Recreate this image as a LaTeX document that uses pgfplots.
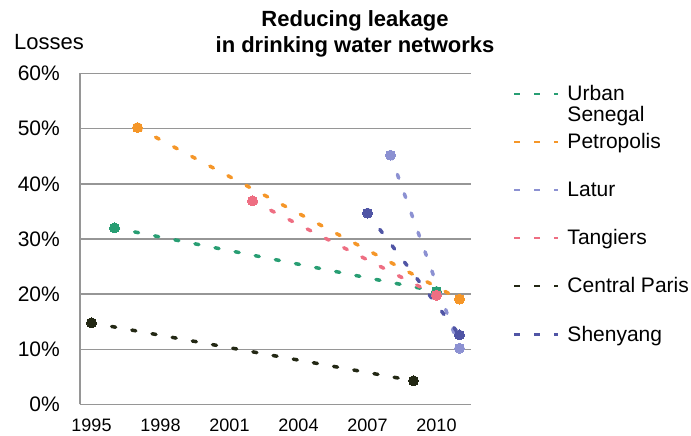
\documentclass[border=0pt]{standalone}
\usepackage{pgfplots}
\pgfplotsset{compat=1.18}
\usepackage{fontspec}
\setmainfont{Liberation Sans}

\definecolor{gridgray}{RGB}{150,150,150}
\definecolor{senegal}{RGB}{40,158,115}
\definecolor{petropolis}{RGB}{245,150,40}
\definecolor{latur}{RGB}{140,145,210}
\definecolor{tangiers}{RGB}{238,110,130}
\definecolor{paris}{RGB}{35,40,20}
\definecolor{shenyang}{RGB}{80,85,165}

% legend text with a fixed box so every row has the same height
\newcommand\lgd[1]{\smash{#1}\rule{0pt}{15pt}}

\pgfplotsset{
  leak/.style={color=#1, line width=3.5pt, line cap=round,
    dash pattern=on 4pt off 16.5pt, mark=*, mark size=5pt,
    mark options={solid, fill=#1, draw=#1, line width=0pt}},
}

\begin{document}
\begin{tikzpicture}[x=1pt,y=1pt]
\useasboundingbox (0,0) rectangle (691,436);
\begin{axis}[
  at={(80pt,31.5pt)}, anchor=south west,
  scale only axis, width=391pt, height=331pt,
  xmin=1994.5, xmax=2011.5, ymin=0, ymax=60,
  clip=false,
  axis lines*=left,
  axis line style={-, draw=gridgray, line width=1.4pt},
  ymajorgrids, grid style={draw=gridgray, line width=1.4pt},
  major tick length=0pt,
  xtick={1995,1998,2001,2004,2007,2010},
  xticklabels={1995,1998,2001,2004,2007,2010},
  ytick={0,10,20,30,40,50,60},
  yticklabels={0\%,10\%,20\%,30\%,40\%,50\%,60\%},
  xticklabel style={font=\fontsize{18}{18}\selectfont, inner sep=0pt, yshift=-14.5pt},
  yticklabel style={font=\fontsize{21}{21}\selectfont, inner sep=0pt, anchor=east, xshift=-20pt},
  legend cell align=left,
  legend image code/.code={\draw[#1, line width=2.5pt, line cap=butt,
    dash pattern=on 6pt off 14pt] (0pt,0pt) -- (44pt,0pt);},
  legend style={at={(axis description cs:1.1074,0.9637)}, anchor=north west,
    draw=none, fill=none, inner sep=0pt, outer sep=0pt,
    column sep=8pt, row sep=31.6pt, nodes={inner sep=0pt},
    font=\fontsize{21}{20.5}\selectfont},
]
\addplot[leak=senegal] coordinates {(1996,32.0) (2010,20.5)};
\addlegendentry{\lgd{\begin{tabular}[t]{@{}l@{}}Urban\\Senegal\end{tabular}}}
\addplot[leak=petropolis] coordinates {(1997,50.2) (2011,19.1)};
\addlegendentry{\lgd{Petropolis}}
\addplot[leak=latur] coordinates {(2008,45.2) (2011,10.2)};
\addlegendentry{\lgd{Latur}}
\addplot[leak=tangiers] coordinates {(2002,36.9) (2010,19.8)};
\addlegendentry{\lgd{Tangiers}}
\addplot[leak=paris] coordinates {(1995,14.8) (2009,4.3)};
\addlegendentry{\lgd{Central Paris}}
\addplot[leak=shenyang] coordinates {(2007,34.7) (2011,12.6)};
\addlegendentry{\lgd{Shenyang}}
\end{axis}
\node[anchor=base, inner sep=0pt, font=\bfseries\fontsize{22}{22}\selectfont] at (355,409) {Reducing leakage};
\node[anchor=base, inner sep=0pt, font=\bfseries\fontsize{22}{22}\selectfont] at (355,383) {in drinking water networks};
\node[anchor=base west, inner sep=0pt, font=\fontsize{22}{22}\selectfont] at (14,386) {Losses};
\end{tikzpicture}
\end{document}
